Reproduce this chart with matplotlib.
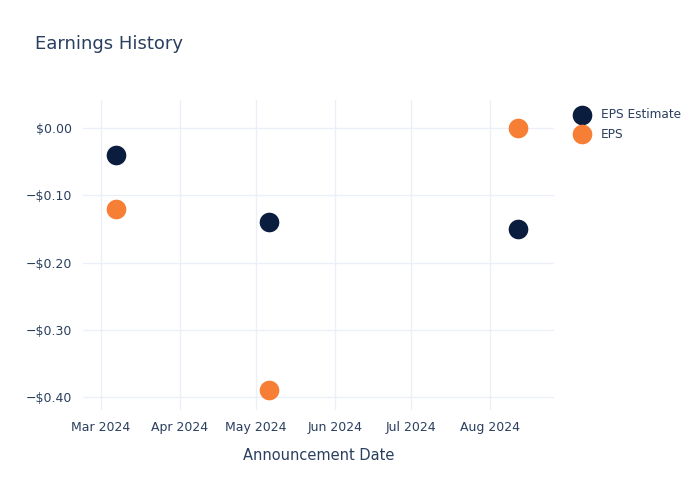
import matplotlib
matplotlib.use("Agg")
import matplotlib.pyplot as plt
import matplotlib.dates as mdates
import pandas as pd
from matplotlib.ticker import FuncFormatter

dates = pd.to_datetime(["2024-03-07", "2024-05-06", "2024-08-12"])
eps_estimate = [-0.04, -0.14, -0.15]
eps_actual = [-0.12, -0.39, 0.00]
tick_dates = pd.to_datetime(["2024-03-01", "2024-04-01", "2024-05-01", "2024-06-01", "2024-07-01", "2024-08-01"])
tick_labels = ["Mar 2024", "Apr 2024", "May 2024", "Jun 2024", "Jul 2024", "Aug 2024"]
y_ticks = [0.0, -0.1, -0.2, -0.3, -0.4]

text_color = "#2a3f5f"
grid_color = "#EBF0F8"
navy = "#0B1D3F"
orange = "#F77F35"

plt.rcParams['font.family'] = ['DejaVu Sans']
fig = plt.figure(figsize=(7, 5), dpi=100)
ax = fig.add_axes([0.119, 0.18, 0.672, 0.62])

ax.scatter(dates, eps_estimate, s=200, color=navy, label="EPS Estimate", zorder=3, linewidths=0)
ax.scatter(dates, eps_actual, s=200, color=orange, label="EPS", zorder=3, linewidths=0)

ax.set_xlim(pd.Timestamp("2024-02-23"), pd.Timestamp("2024-08-26"))
ax.set_ylim(-0.419, 0.0416)
ax.set_xticks(tick_dates)
ax.set_xticklabels(tick_labels)
ax.set_yticks(y_ticks)

def fmt(v, pos):
    if abs(v) < 1e-9:
        return "$0.00"
    return "\u2212${:.2f}".format(abs(v))
ax.yaxis.set_major_formatter(FuncFormatter(fmt))

for s in ax.spines.values():
    s.set_visible(False)
ax.grid(True, color=grid_color, linewidth=1)
ax.set_axisbelow(True)
ax.tick_params(length=0, labelsize=9, colors=text_color, pad=8)
ax.set_xlabel("Announcement Date", fontsize=10.5, color=text_color, labelpad=10)

fig.text(0.05, 0.902, "Earnings History", fontsize=13, color=text_color)

leg = ax.legend(loc="upper left", bbox_to_anchor=(1.025, 0.99), frameon=False,
                fontsize=8.7, labelcolor=text_color, handletextpad=0.55, borderaxespad=0.0,
                labelspacing=0.55)

fig.savefig("out.png", dpi=100, facecolor="white")
